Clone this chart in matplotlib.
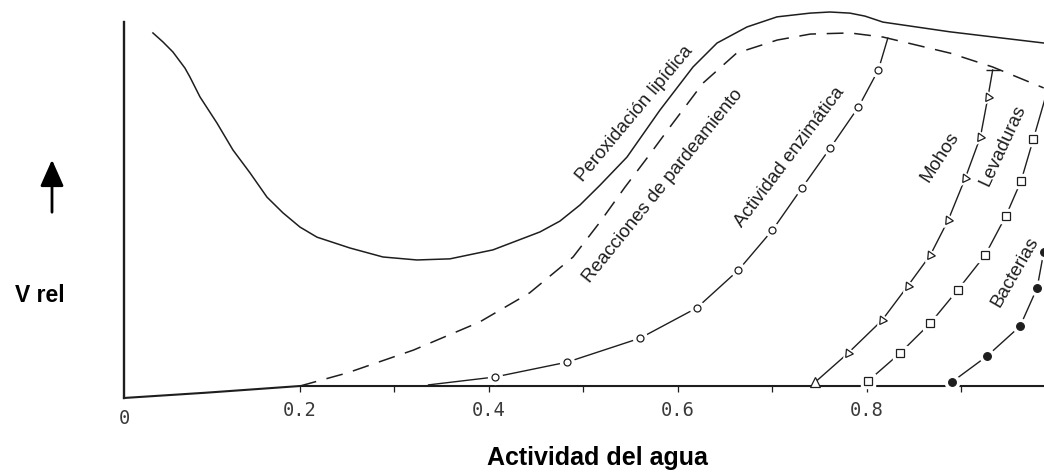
import matplotlib.pyplot as plt
from matplotlib.patches import FancyArrowPatch

# Actividad del agua (aw) frente a velocidad relativa
base_x = [0.0138, 0.1, 0.2, 0.99]
base_y = [-0.032, -0.018, 0.0, 0.0]

perox_x = [0.0444, 0.0550, 0.0656, 0.0783, 0.0836, 0.0942, 0.1122, 0.1291, 0.1471,
           0.1651, 0.1820, 0.2000, 0.2180, 0.2529, 0.2878, 0.3238, 0.3587, 0.4042,
           0.4540, 0.4751, 0.4963, 0.5175, 0.5460, 0.5810, 0.6159, 0.6413, 0.6730,
           0.7048, 0.7397, 0.7608, 0.7820, 0.7979, 0.8169, 0.8878, 0.9873]
perox_y = [0.944, 0.920, 0.893, 0.850, 0.826, 0.773, 0.703, 0.631, 0.570,
           0.505, 0.463, 0.425, 0.398, 0.369, 0.345, 0.337, 0.340, 0.364,
           0.412, 0.441, 0.484, 0.537, 0.612, 0.738, 0.853, 0.917, 0.960,
           0.987, 0.997, 1.000, 0.997, 0.989, 0.973, 0.947, 0.917]

pard_x = [0.200, 0.250, 0.320, 0.390, 0.443, 0.489, 0.5175, 0.544, 0.568, 0.5915,
          0.6265, 0.662, 0.705, 0.740, 0.782, 0.817, 0.888, 0.933, 0.987]
pard_y = [0.0, 0.035, 0.096, 0.171, 0.249, 0.345, 0.4385, 0.532, 0.612, 0.6925,
          0.810, 0.890, 0.925, 0.941, 0.944, 0.933, 0.890, 0.853, 0.797]

enz_x = [0.406, 0.483, 0.560, 0.620, 0.664, 0.700, 0.731, 0.761, 0.791, 0.812]
enz_y = [0.024, 0.064, 0.128, 0.209, 0.310, 0.417, 0.529, 0.636, 0.746, 0.845]
enz_ini = (0.336, 0.003)
enz_fin = (0.822, 0.930)

mohos_x = [0.745, 0.780, 0.816, 0.843, 0.867, 0.886, 0.904, 0.920, 0.928]
mohos_y = [0.010, 0.088, 0.176, 0.267, 0.350, 0.444, 0.556, 0.666, 0.773]
mohos_fin = (0.933, 0.845)

lev_x = [0.801, 0.835, 0.867, 0.896, 0.925, 0.947, 0.963, 0.976]
lev_y = [0.013, 0.088, 0.168, 0.257, 0.350, 0.455, 0.548, 0.660]
lev_fin = (0.992, 0.80)

bact_x = [0.890, 0.927, 0.962, 0.980, 0.987]
bact_y = [0.011, 0.080, 0.160, 0.262, 0.358]
bact_fin = (0.996, 0.46)

etiquetas = ["Peroxidación lipídica", "Reacciones de pardeamiento", "Actividad enzimática",
             "Mohos", "Levaduras", "Bacterias"]
etiq_x = [0.554, 0.584, 0.7185, 0.877, 0.944, 0.957]
etiq_y = [0.727, 0.535, 0.612, 0.612, 0.642, 0.305]
etiq_rot = [50, 51, 53, 57, 65, 60]

ticks_may = [0.2, 0.4, 0.6, 0.8]
ticks_min = [0.3, 0.5, 0.7, 0.9]

tinta = '#1e1e1e'

fig = plt.figure(figsize=(10.44, 4.73), dpi=100)
ax = fig.add_axes([124 / 1044, 73 / 473, 920 / 1044, 400 / 473])
ax.set_xlim(0.0138, 0.9873)
ax.set_ylim(-0.0374, 1.0321)

for s in ['top', 'right']:
    ax.spines[s].set_visible(False)
ax.spines['bottom'].set_position(('data', 0))
ax.spines['bottom'].set_visible(False)
ax.spines['left'].set_bounds(-0.032, 0.973)
ax.spines['left'].set_linewidth(1.7)
ax.spines['left'].set_color(tinta)
ax.set_yticks([])

ax.set_xticks(ticks_may)
ax.set_xticklabels([f'{t:.1f}' for t in ticks_may], fontfamily='DejaVu Sans Mono',
                   fontsize=13.5, color='#3a3a3a')
ax.set_xticks(ticks_min, minor=True)
ax.tick_params(axis='x', which='both', direction='out', length=4, width=0.9,
               color=tinta, pad=7)
ax.text(0.0138, -0.088, '0', ha='center', va='center', fontfamily='DejaVu Sans Mono',
        fontsize=13.5, color='#3a3a3a', clip_on=False)

# linea base
ax.plot(base_x, base_y, color=tinta, lw=1.5, clip_on=False, zorder=2)

# peroxidacion lipidica (continua) y pardeamiento (discontinua)
ax.plot(perox_x, perox_y, color=tinta, lw=1.1, clip_on=False, zorder=2,
        solid_joinstyle='round')
ax.plot(pard_x, pard_y, color=tinta, lw=1.1, dashes=(11, 7), zorder=2)


def serie(xs, ys, ini, fin, marker, relleno, ms):
    lx = ([ini[0]] if ini else []) + xs + [fin[0]]
    ly = ([ini[1]] if ini else []) + ys + [fin[1]]
    ax.plot(lx, ly, color=tinta, lw=1.0, zorder=3)
    ax.plot(xs, ys, ls='none', marker=marker, ms=ms + 5, mfc='white', mec='white',
            zorder=4)
    ax.plot(xs, ys, ls='none', marker=marker, ms=ms, mew=0.9, mec=tinta,
            mfc=tinta if relleno else 'white', zorder=5)


serie(enz_x, enz_y, enz_ini, enz_fin, 'o', False, 5)
serie(mohos_x[1:], mohos_y[1:], (mohos_x[0], mohos_y[0]), mohos_fin, (3, 0, 25), False, 7)
ax.plot(mohos_x[:1], mohos_y[:1], ls='none', marker='^', ms=7.5, mew=0.9, mec=tinta,
        mfc='white', zorder=5)
ax.plot([mohos_fin[0]], [mohos_fin[1]], ls='none', marker='_', ms=10, mew=1.0,
        color=tinta, zorder=5)
serie(lev_x, lev_y, None, lev_fin, 's', False, 5.5)
serie(bact_x, bact_y, None, bact_fin, 'o', True, 5.5)

for txt, x, y, r in zip(etiquetas, etiq_x, etiq_y, etiq_rot):
    ax.text(x, y, txt, rotation=r, rotation_mode='anchor', ha='center', va='center',
            fontfamily='Liberation Sans', fontsize=13.5, color=tinta)

fig.text(597 / 1044, 15 / 473, 'Actividad del agua', ha='center', va='center',
         fontfamily='Liberation Sans', fontweight='bold', fontsize=18)
fig.text(40 / 1044, 177 / 473, 'V rel', ha='center', va='center',
         fontfamily='Liberation Sans', fontweight='bold', fontsize=16.5)
fig.add_artist(FancyArrowPatch(
    (52 / 1044, 258 / 473), (52 / 1044, 316 / 473), transform=fig.transFigure,
    arrowstyle='-|>,head_length=0.9,head_width=0.4', mutation_scale=18,
    color='black', lw=2))

fig.savefig('out.png', dpi=100, facecolor='white')
